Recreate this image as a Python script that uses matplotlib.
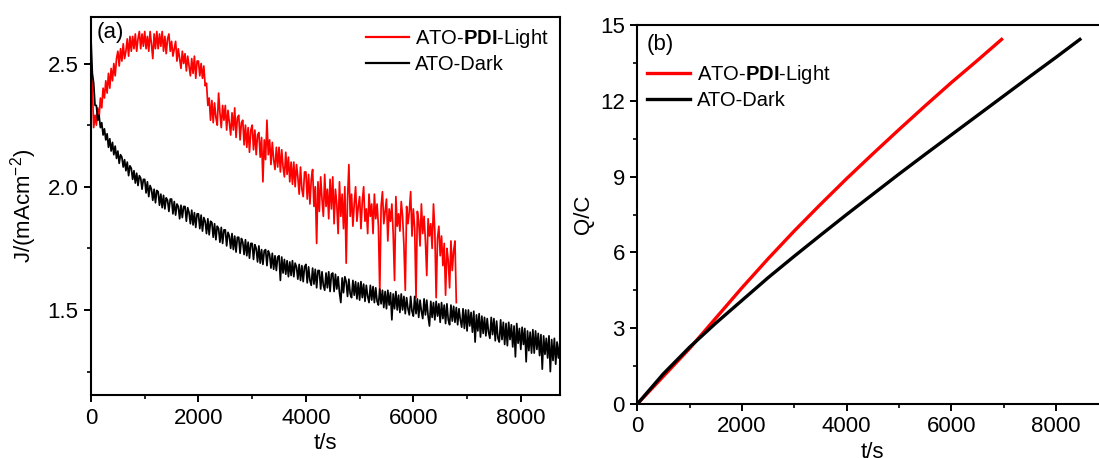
import numpy as np
import matplotlib.pyplot as plt
from matplotlib.ticker import MultipleLocator

plt.rcParams['font.family'] = ['Liberation Sans', 'DejaVu Sans']
plt.rcParams['mathtext.fontset'] = 'custom'
plt.rcParams['mathtext.rm'] = 'Liberation Sans'
plt.rcParams['mathtext.bf'] = 'Liberation Sans:bold'
plt.rcParams['mathtext.default'] = 'regular'

# ---- (a) current density, one reading every 25 s ----
dt = 25
j_light = [
    2.52, 2.40, 2.24, 2.29, 2.25, 2.32, 2.28, 2.36, 2.32, 2.40,
    2.36, 2.43, 2.38, 2.46, 2.40, 2.48, 2.43, 2.50, 2.45, 2.52,
    2.55, 2.49, 2.56, 2.51, 2.58, 2.52, 2.55, 2.60, 2.53, 2.61,
    2.55, 2.61, 2.56, 2.62, 2.55, 2.60, 2.63, 2.56, 2.62, 2.57,
    2.63, 2.56, 2.61, 2.55, 2.63, 2.58, 2.52, 2.62, 2.56, 2.63,
    2.56, 2.62, 2.57, 2.63, 2.55, 2.61, 2.54, 2.60, 2.62, 2.55,
    2.59, 2.53, 2.56, 2.59, 2.51, 2.56, 2.52, 2.48, 2.55, 2.50,
    2.54, 2.47, 2.53, 2.49, 2.45, 2.52, 2.46, 2.53, 2.44, 2.51,
    2.51, 2.45, 2.50, 2.44, 2.49, 2.41, 2.42, 2.33, 2.36, 2.27,
    2.35, 2.26, 2.34, 2.28, 2.25, 2.38, 2.30, 2.24, 2.33, 2.27,
    2.33, 2.23, 2.31, 2.26, 2.21, 2.30, 2.23, 2.32, 2.20, 2.28,
    2.29, 2.19, 2.26, 2.27, 2.17, 2.25, 2.16, 2.24, 2.14, 2.23,
    2.25, 2.15, 2.23, 2.13, 2.21, 2.22, 2.12, 2.20, 2.02, 2.19,
    2.11, 2.27, 2.13, 2.19, 2.09, 2.18, 2.11, 2.07, 2.16, 2.08,
    2.16, 2.06, 2.15, 2.08, 2.04, 2.14, 2.05, 2.12, 2.02, 2.10,
    2.01, 2.10, 2.00, 2.09, 2.04, 1.97, 2.08, 1.99, 1.96, 2.06,
    2.06, 1.95, 2.05, 1.93, 2.03, 2.07, 1.92, 2.00, 1.77, 2.02,
    1.90, 2.04, 1.95, 1.88, 2.05, 1.92, 1.99, 1.87, 2.03, 1.91,
    2.04, 1.85, 1.99, 1.93, 1.81, 2.02, 1.88, 1.97, 1.83, 2.00,
    1.69, 1.95, 2.09, 1.88, 1.97, 1.84, 1.93, 2.00, 1.86, 1.92,
    1.96, 1.83, 1.94, 2.00, 1.86, 1.91, 1.81, 1.97, 1.88, 1.93,
    1.81, 1.97, 1.87, 1.93, 1.84, 1.57, 1.92, 1.98, 1.85, 1.90,
    1.95, 1.78, 1.91, 1.86, 1.93, 1.81, 1.62, 1.96, 1.84, 1.89,
    1.82, 1.94, 1.88, 1.76, 1.58, 1.92, 1.85, 1.90, 1.98, 1.80,
    1.91, 1.83, 1.55, 1.90, 1.86, 1.76, 1.93, 1.81, 1.88, 1.78,
    1.64, 1.87, 1.80, 1.85, 1.75, 1.93, 1.82, 1.55, 1.79, 1.84,
    1.72, 1.80, 1.68, 1.77, 1.56, 1.75, 1.70, 1.59, 1.78, 1.66,
    1.74, 1.78, 1.53,
]
j_dark = [
    2.60, 2.46, 2.42, 2.33, 2.33, 2.27, 2.29, 2.24, 2.26, 2.21,
    2.235, 2.19, 2.215, 2.16, 2.195, 2.145, 2.18, 2.13, 2.165, 2.115,
    2.145, 2.095, 2.13, 2.12, 2.08, 2.11, 2.065, 2.10, 2.045, 2.085,
    2.075, 2.03, 2.065, 2.015, 2.055, 2.005, 2.045, 2.035, 1.99, 2.03,
    2.03, 1.975, 2.02, 1.96, 2.005, 1.99, 1.945, 1.99, 1.935, 1.985,
    1.98, 1.925, 1.97, 1.915, 1.965, 1.91, 1.955, 1.945, 1.90, 1.95,
    1.95, 1.89, 1.94, 1.885, 1.93, 1.92, 1.87, 1.925, 1.875, 1.92,
    1.92, 1.86, 1.915, 1.895, 1.85, 1.905, 1.845, 1.895, 1.835, 1.89,
    1.89, 1.83, 1.885, 1.82, 1.875, 1.86, 1.81, 1.87, 1.805, 1.86,
    1.855, 1.795, 1.85, 1.785, 1.84, 1.83, 1.775, 1.835, 1.77, 1.825,
    1.825, 1.76, 1.815, 1.80, 1.75, 1.81, 1.745, 1.80, 1.735, 1.795,
    1.795, 1.73, 1.79, 1.775, 1.725, 1.785, 1.72, 1.775, 1.71, 1.77,
    1.77, 1.705, 1.765, 1.75, 1.695, 1.76, 1.69, 1.745, 1.685, 1.74,
    1.745, 1.68, 1.74, 1.725, 1.67, 1.73, 1.665, 1.72, 1.66, 1.715,
    1.72, 1.62, 1.715, 1.65, 1.705, 1.645, 1.70, 1.635, 1.695, 1.64,
    1.70, 1.635, 1.69, 1.675, 1.625, 1.685, 1.62, 1.68, 1.615, 1.675,
    1.685, 1.61, 1.675, 1.62, 1.60, 1.67, 1.605, 1.665, 1.59, 1.66,
    1.66, 1.585, 1.655, 1.60, 1.58, 1.65, 1.59, 1.655, 1.575, 1.645,
    1.65, 1.575, 1.645, 1.585, 1.635, 1.57, 1.53, 1.63, 1.57, 1.635,
    1.615, 1.555, 1.625, 1.565, 1.55, 1.62, 1.56, 1.615, 1.545, 1.61,
    1.54, 1.615, 1.55, 1.605, 1.535, 1.60, 1.555, 1.53, 1.60, 1.54,
    1.595, 1.53, 1.59, 1.535, 1.52, 1.585, 1.525, 1.58, 1.51, 1.575,
    1.505, 1.58, 1.52, 1.57, 1.46, 1.565, 1.505, 1.575, 1.50, 1.56,
    1.49, 1.565, 1.50, 1.555, 1.485, 1.55, 1.505, 1.48, 1.555, 1.495,
    1.475, 1.555, 1.485, 1.545, 1.47, 1.54, 1.495, 1.465, 1.545, 1.48,
    1.54, 1.475, 1.435, 1.535, 1.47, 1.53, 1.46, 1.535, 1.475, 1.525,
    1.45, 1.53, 1.465, 1.52, 1.445, 1.525, 1.46, 1.44, 1.52, 1.455,
    1.515, 1.45, 1.51, 1.44, 1.505, 1.46, 1.43, 1.505, 1.425, 1.50,
    1.415, 1.50, 1.435, 1.49, 1.41, 1.495, 1.37, 1.48, 1.415, 1.485,
    1.39, 1.475, 1.405, 1.47, 1.395, 1.465, 1.41, 1.385, 1.47, 1.40,
    1.465, 1.375, 1.455, 1.385, 1.37, 1.46, 1.38, 1.45, 1.36, 1.445,
    1.355, 1.45, 1.38, 1.44, 1.35, 1.435, 1.31, 1.445, 1.365, 1.425,
    1.34, 1.43, 1.36, 1.425, 1.29, 1.415, 1.335, 1.41, 1.325, 1.42,
    1.325, 1.415, 1.34, 1.405, 1.315, 1.40, 1.26, 1.395, 1.32, 1.385,
    1.305, 1.395, 1.25, 1.38, 1.295, 1.385, 1.28, 1.37, 1.305, 1.365,
    1.30,
]
t_light = np.arange(len(j_light)) * dt
t_dark = np.arange(len(j_dark)) * dt

# ---- (b) accumulated charge ----
tq_light = [0, 500, 1000, 1500, 2000, 2500, 3000, 3500, 4000, 4500, 5000, 5500, 6000, 6500, 6961]
q_light = [0, 1.1, 2.2, 3.4, 4.6, 5.75, 6.85, 7.9, 8.92, 9.9, 10.86, 11.8, 12.72, 13.6, 14.43]
tq_dark = [0, 500, 1000, 1500, 2000, 2500, 3000, 3500, 4000, 4500, 5000, 5500, 6000, 6500, 7000, 7500, 8000, 8457]
q_dark = [0, 1.2, 2.25, 3.2, 4.1, 5.0, 5.85, 6.68, 7.5, 8.3, 9.1, 9.88, 10.65, 11.42, 12.19, 12.96, 13.72, 14.43]

LABEL_LIGHT = 'ATO-$\\bf{PDI}$-Light'
LABEL_DARK = 'ATO-Dark'

fig = plt.figure(figsize=(10.99, 4.58), dpi=100)
ax1 = fig.add_axes([91/1099, 63/458, 469/1099, 378.3/458])
ax2 = fig.add_axes([637.3/1099, 54/458, 471/1099, 379/458])

def style(ax):
    for s in ax.spines.values():
        s.set_linewidth(1.5)
    ax.tick_params(which='major', direction='out', length=5, width=1.4, labelsize=16, pad=4)
    ax.tick_params(which='minor', direction='out', length=3, width=1.2)

# panel (a)
ax1.plot(t_light, j_light, color='#ff0000', lw=1.25, label=LABEL_LIGHT)
ax1.plot(t_dark, j_dark, color='black', lw=1.25, label=LABEL_DARK)
ax1.set_xlim(0, 8730)
ax1.set_ylim(1.155, 2.69)
ax1.xaxis.set_major_locator(MultipleLocator(2000))
ax1.xaxis.set_minor_locator(MultipleLocator(1000))
ax1.yaxis.set_major_locator(MultipleLocator(0.5))
ax1.yaxis.set_minor_locator(MultipleLocator(0.25))
ax1.yaxis.set_major_formatter(lambda v, p: f'{v:.1f}')
style(ax1)
ax1.set_xlabel('t/s', fontsize=16, labelpad=3)
ax1.set_ylabel('J/(mAcm$^{-2}$)', fontsize=16, labelpad=6)
ax1.text(0.012, 0.985, '(a)', transform=ax1.transAxes, fontsize=16, va='top', ha='left')
leg1 = ax1.legend(loc='upper left', bbox_to_anchor=(0.586, 0.972), frameon=False, fontsize=14.5,
                  handlelength=2.15, handletextpad=0.3, labelspacing=0.22, borderpad=0, borderaxespad=0)
for ln in leg1.get_lines():
    ln.set_linewidth(1.6)

# panel (b)
ax2.plot(tq_light, q_light, color='#ff0000', lw=2.4, label=LABEL_LIGHT)
ax2.plot(tq_dark, q_dark, color='black', lw=2.4, label=LABEL_DARK)
ax2.set_xlim(0, 9000)
ax2.set_ylim(0, 15)
ax2.xaxis.set_major_locator(MultipleLocator(2000))
ax2.xaxis.set_minor_locator(MultipleLocator(1000))
ax2.yaxis.set_major_locator(MultipleLocator(3))
ax2.yaxis.set_minor_locator(MultipleLocator(1.5))
style(ax2)
ax2.set_xlabel('t/s', fontsize=16, labelpad=3)
ax2.set_ylabel('Q/C', fontsize=16, labelpad=4)
ax2.text(0.02, 0.975, '(b)', transform=ax2.transAxes, fontsize=16, va='top', ha='left')
ax2.legend(loc='upper left', bbox_to_anchor=(0.021, 0.9), frameon=False, fontsize=14.5,
           handlelength=2.15, handletextpad=0.3, labelspacing=0.24, borderpad=0, borderaxespad=0)

fig.savefig('out.png', dpi=100)
